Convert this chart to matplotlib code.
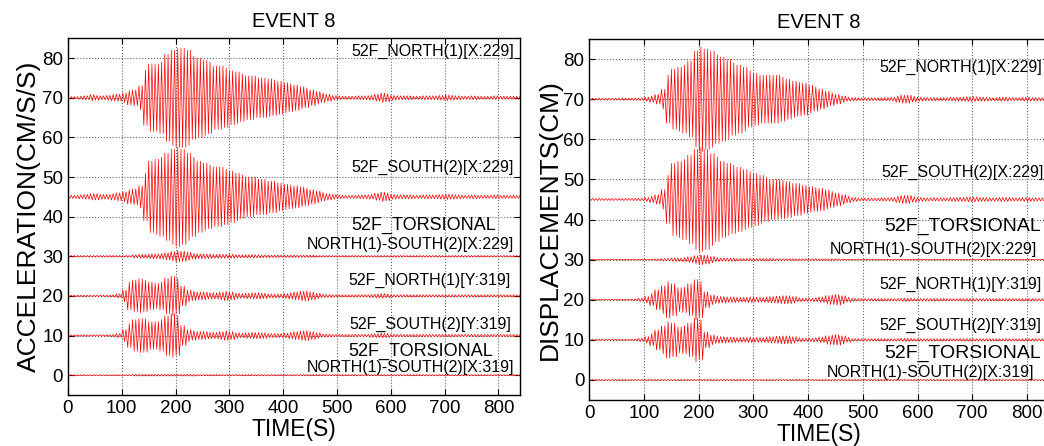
import numpy as np
import matplotlib
matplotlib.use("Agg")
import matplotlib.pyplot as plt

plt.rcParams['font.family'] = ['Liberation Sans', 'DejaVu Sans']

# === DATA: envelope amplitude of each record, one value per 10 s bin (0..830 s) ===
BIN = 10
HALF_PERIOD = 3.0   # s, half of the dominant response period

acc_north_x = [0.3, 0.3, 0.4, 0.5, 0.8, 0.6, 0.5, 0.6, 0.8, 0.9,
               1.2, 1.8, 2.0, 3.0, 7.0, 8.5, 8.5, 9.0, 11.0, 12.0,
               12.5, 12.5, 12.0, 10.5, 10.0, 9.5, 9.0, 8.0, 8.0, 7.5,
               6.8, 6.5, 6.0, 5.5, 5.5, 5.0, 5.0, 4.8, 4.5, 4.2,
               3.8, 3.5, 3.2, 2.8, 2.5, 2.0, 1.6, 1.2, 0.9, 0.6,
               0.5, 0.4, 0.4, 0.4, 0.5, 0.5, 0.6, 0.9, 1.2, 1.0,
               0.6, 0.5, 0.5, 0.5, 0.4, 0.4, 0.5, 0.5, 0.5, 0.6,
               0.7, 0.6, 0.5, 0.4, 0.4, 0.5, 0.4, 0.4, 0.4, 0.5,
               0.4, 0.4, 0.4, 0.4]
acc_south_x = [0.4, 0.4, 0.5, 0.6, 0.8, 0.8, 0.6, 0.6, 0.8, 1.0,
               1.3, 1.8, 2.0, 2.8, 6.0, 9.0, 9.5, 10.0, 11.0, 12.0,
               12.5, 12.0, 11.0, 10.0, 9.0, 8.5, 8.0, 7.5, 7.5, 7.0,
               6.5, 6.0, 5.5, 5.0, 5.0, 4.5, 4.5, 4.0, 4.0, 3.5,
               3.2, 3.0, 2.8, 2.5, 2.2, 1.8, 1.5, 1.1, 0.8, 0.6,
               0.5, 0.4, 0.4, 0.4, 0.5, 0.5, 0.6, 0.9, 1.2, 1.0,
               0.6, 0.5, 0.5, 0.5, 0.4, 0.4, 0.5, 0.5, 0.5, 0.6,
               0.7, 0.6, 0.5, 0.4, 0.4, 0.5, 0.4, 0.4, 0.4, 0.5,
               0.4, 0.4, 0.4, 0.4]
acc_tors_x = [0.2] * 12 + [0.4, 0.5, 0.5, 0.6, 0.6, 0.7, 0.9, 1.2,
               1.4, 1.3, 1.0, 0.7, 0.6, 0.6, 0.6, 0.5, 0.5, 0.5,
               0.5, 0.4, 0.4, 0.4, 0.4, 0.4, 0.3, 0.3, 0.3, 0.3,
               0.3, 0.3, 0.3, 0.3, 0.3, 0.3] + [0.2] * 38
acc_north_y = [0.2, 0.2, 0.2, 0.2, 0.2, 0.2, 0.2, 0.2, 0.3, 0.5,
               1.5, 3.5, 4.0, 4.3, 4.0, 3.5, 3.2, 3.5, 4.5, 5.0,
               4.5, 2.5, 1.5, 1.2, 1.0, 1.0, 0.8, 0.8, 1.0, 1.2,
               1.0, 0.7, 0.6, 0.7, 0.8, 0.8, 0.7, 0.5, 0.5, 0.5,
               0.6, 0.8, 1.0, 1.2, 1.3, 1.0, 0.7, 0.4, 0.4, 0.3,
               0.3, 0.3, 0.3, 0.3, 0.3, 0.3, 0.4, 0.5, 0.6, 0.5,
               0.3, 0.3, 0.3, 0.3, 0.3, 0.3, 0.3, 0.3, 0.3, 0.3,
               0.3, 0.3, 0.3, 0.3, 0.3, 0.3, 0.3, 0.3, 0.3, 0.3,
               0.3, 0.3, 0.3, 0.3]
acc_south_y = [0.2, 0.2, 0.2, 0.2, 0.2, 0.2, 0.2, 0.2, 0.3, 0.5,
               1.5, 3.0, 4.0, 4.3, 4.2, 3.5, 3.5, 4.0, 5.0, 5.5,
               5.0, 2.5, 1.5, 1.2, 1.0, 1.0, 0.8, 0.8, 1.0, 1.2,
               1.0, 0.7, 0.6, 0.7, 0.8, 0.8, 0.7, 0.5, 0.5, 0.5,
               0.6, 0.8, 1.0, 1.2, 1.3, 1.0, 0.7, 0.4, 0.4, 0.3,
               0.3, 0.3, 0.3, 0.3, 0.3, 0.3, 0.4, 0.5, 0.6, 0.5,
               0.3, 0.3, 0.3, 0.3, 0.3, 0.3, 0.3, 0.3, 0.3, 0.3,
               0.3, 0.3, 0.3, 0.3, 0.3, 0.3, 0.3, 0.3, 0.3, 0.3,
               0.3, 0.3, 0.3, 0.3]
acc_tors_y = [0.1] * 12 + [0.2] * 12 + [0.15] * 60

dis_north_x = [0.25, 0.25, 0.25, 0.25, 0.25, 0.25, 0.25, 0.25, 0.3, 0.3,
               0.5, 0.8, 1.2, 2.5, 6.0, 7.5, 8.0, 8.5, 9.5, 12.0,
               13.0, 12.5, 12.0, 11.0, 10.5, 10.0, 9.0, 8.5, 8.0, 7.0,
               6.5, 6.0, 6.0, 6.0, 6.0, 5.5, 5.0, 4.5, 4.2, 4.0,
               3.5, 3.0, 2.5, 2.0, 1.6, 1.2, 0.8, 0.5, 0.4, 0.35,
               0.35, 0.35, 0.35, 0.4, 0.4, 0.5, 0.8, 1.0, 1.0, 0.7,
               0.5, 0.4, 0.4, 0.4, 0.4, 0.4, 0.5, 0.5, 0.5, 0.6,
               0.6, 0.5, 0.5, 0.4, 0.4, 0.5, 0.5, 0.4, 0.4, 0.5,
               0.5, 0.4, 0.4, 0.4]
dis_south_x = [0.25, 0.25, 0.25, 0.25, 0.25, 0.25, 0.25, 0.25, 0.3, 0.3,
               0.5, 0.8, 1.2, 2.5, 6.0, 9.0, 9.5, 10.0, 11.0, 12.5,
               13.0, 12.5, 11.5, 10.5, 9.5, 9.0, 8.5, 8.0, 7.5, 7.0,
               6.5, 6.0, 5.5, 5.0, 5.0, 4.8, 4.5, 4.0, 4.0, 3.5,
               3.2, 3.0, 2.8, 2.4, 2.0, 1.6, 1.2, 0.8, 0.5, 0.35,
               0.35, 0.35, 0.35, 0.4, 0.4, 0.5, 0.8, 1.0, 1.0, 0.7,
               0.5, 0.4, 0.4, 0.4, 0.4, 0.4, 0.5, 0.5, 0.5, 0.6,
               0.6, 0.5, 0.5, 0.4, 0.4, 0.5, 0.5, 0.4, 0.4, 0.5,
               0.5, 0.4, 0.4, 0.4]
dis_tors_x = [0.1] * 12 + [0.2, 0.3, 0.3, 0.4, 0.4, 0.5, 0.7, 1.0,
               1.2, 1.1, 0.8, 0.5, 0.4, 0.4, 0.4, 0.3, 0.3, 0.3,
               0.3, 0.3, 0.3, 0.3, 0.2, 0.2, 0.2, 0.2, 0.2, 0.2,
               0.2, 0.2, 0.2, 0.2, 0.2, 0.2] + [0.1] * 38
dis_north_y = [0.1, 0.1, 0.1, 0.1, 0.1, 0.1, 0.1, 0.1, 0.2, 0.4,
               0.8, 1.5, 2.5, 3.5, 4.5, 4.0, 3.0, 3.2, 4.0, 5.0,
               4.5, 2.0, 1.2, 0.9, 0.8, 0.7, 0.7, 0.6, 0.6, 0.7,
               0.6, 0.6, 0.7, 0.8, 0.9, 1.0, 1.0, 0.8, 0.5, 0.4,
               0.4, 0.5, 0.7, 1.0, 1.2, 1.3, 1.0, 0.6, 0.3, 0.3,
               0.3, 0.3, 0.3, 0.3, 0.3, 0.3, 0.3, 0.4, 0.4, 0.3,
               0.3, 0.3, 0.3, 0.3, 0.3, 0.3, 0.3, 0.3, 0.3, 0.3,
               0.3, 0.3, 0.3, 0.3, 0.3, 0.3, 0.3, 0.3, 0.3, 0.3,
               0.3, 0.3, 0.3, 0.3]
dis_south_y = [0.1, 0.1, 0.1, 0.1, 0.1, 0.1, 0.1, 0.1, 0.2, 0.4,
               0.8, 1.5, 2.5, 3.5, 4.5, 4.2, 3.2, 3.5, 4.2, 5.5,
               5.0, 2.0, 1.2, 0.9, 0.8, 0.7, 0.7, 0.6, 0.6, 0.7,
               0.6, 0.6, 0.7, 0.8, 0.9, 1.0, 1.0, 0.8, 0.5, 0.4,
               0.4, 0.5, 0.7, 1.0, 1.2, 1.3, 1.0, 0.6, 0.3, 0.3,
               0.3, 0.3, 0.3, 0.3, 0.3, 0.3, 0.3, 0.4, 0.4, 0.3,
               0.3, 0.3, 0.3, 0.3, 0.3, 0.3, 0.3, 0.3, 0.3, 0.3,
               0.3, 0.3, 0.3, 0.3, 0.3, 0.3, 0.3, 0.3, 0.3, 0.3,
               0.3, 0.3, 0.3, 0.3]
dis_tors_y = [0.1] * 84

offsets = [70, 45, 30, 20, 10, 0]
acc_records = [acc_north_x, acc_south_x, acc_tors_x, acc_north_y, acc_south_y, acc_tors_y]
dis_records = [dis_north_x, dis_south_x, dis_tors_x, dis_north_y, dis_south_y, dis_tors_y]

x_ticks = [0, 100, 200, 300, 400, 500, 600, 700, 800]
y_ticks = [0, 10, 20, 30, 40, 50, 60, 70, 80]
T_END = 840


def trace(env, offset):
    # alternating peaks, one every half period, height from the 10 s envelope bin
    env = np.asarray(env, dtype=float)
    tp = np.arange(0, T_END + HALF_PERIOD, HALF_PERIOD)
    idx = np.minimum((tp // BIN).astype(int), len(env) - 1)
    sign = np.where(np.arange(len(tp)) % 2 == 0, 1.0, -1.0)
    return tp, offset + sign * env[idx]


def style_axes(ax):
    ax.set_xlim(0, T_END)
    ax.set_ylim(-5, 85)
    ax.set_xticks(x_ticks)
    ax.set_yticks(y_ticks)
    ax.grid(True, linestyle=':', color='#666666', linewidth=0.8)
    ax.tick_params(direction='in', top=True, right=True, length=4, labelsize=13.5)
    for s in ax.spines.values():
        s.set_linewidth(1.0)


fig = plt.figure(figsize=(10.44, 4.46), dpi=100)
ax1 = fig.add_axes([0.0651, 0.1143, 0.4330, 0.7998])
ax2 = fig.add_axes([0.5645, 0.1031, 0.4401, 0.8094])

for ax, recs in [(ax1, acc_records), (ax2, dis_records)]:
    for env, off in zip(recs, offsets):
        t, y = trace(env, off)
        ax.plot(t, y, color='red', linewidth=0.5)
    style_axes(ax)
    ax.set_title('EVENT 8', fontsize=14.5, pad=8)
    ax.set_xlabel('TIME(S)', fontsize=16.5, labelpad=1)

ax1.set_ylabel('ACCELERATION(CM/S/S)', fontsize=19, labelpad=1)
ax2.set_ylabel('DISPLACEMENTS(CM)', fontsize=19, labelpad=1)

# record labels (left panel)
kw = dict(ha='right', va='center', fontsize=11.5)
ax1.text(829, 81.8, '52F_NORTH(1)[X:229]', **kw)
ax1.text(829, 52.3, '52F_SOUTH(2)[X:229]', **kw)
ax1.text(661, 37.7, '52F_TORSIONAL', ha='center', va='center', fontsize=13)
ax1.text(829, 33.1, 'NORTH(1)-SOUTH(2)[X:229]', **kw)
ax1.text(823, 23.8, '52F_NORTH(1)[Y:319]', **kw)
ax1.text(823, 12.9, '52F_SOUTH(2)[Y:319]', **kw)
ax1.text(655, 5.9, '52F_TORSIONAL', ha='center', va='center', fontsize=13)
ax1.text(829, 1.85, 'NORTH(1)-SOUTH(2)[X:319]', **kw)

# record labels (right panel)
ax2.text(828, 77.9, '52F_NORTH(1)[X:229]', **kw)
ax2.text(830, 51.8, '52F_SOUTH(2)[X:229]', **kw)
ax2.text(683, 38.4, '52F_TORSIONAL', ha='center', va='center', fontsize=14)
ax2.text(818, 32.6, 'NORTH(1)-SOUTH(2)[X:229]', **kw)
ax2.text(827, 23.7, '52F_NORTH(1)[Y:319]', **kw)
ax2.text(827, 13.7, '52F_SOUTH(2)[Y:319]', **kw)
ax2.text(683, 6.6, '52F_TORSIONAL', ha='center', va='center', fontsize=14)
ax2.text(813, 1.9, 'NORTH(1)-SOUTH(2)[X:319]', **kw)

fig.savefig('out.png', dpi=100)
